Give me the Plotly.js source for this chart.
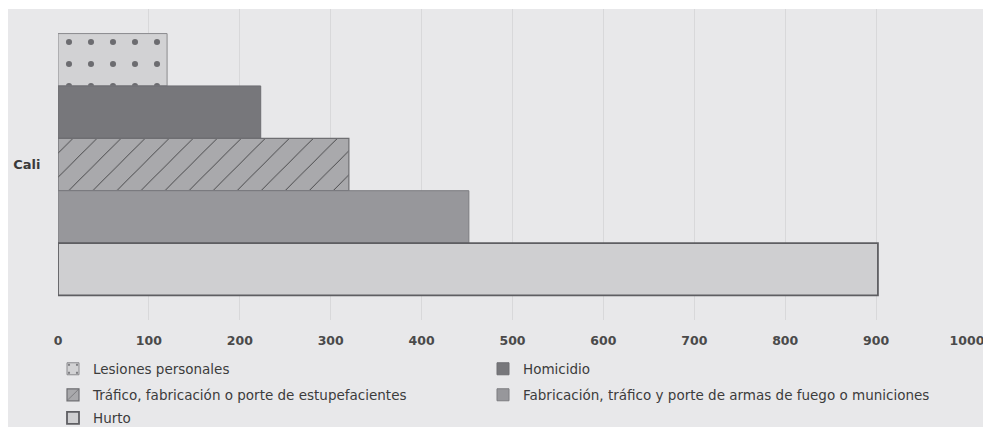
<!DOCTYPE html>
<html><head><meta charset="utf-8">
<script src="https://cdn.plot.ly/plotly-3.0.1.min.js"></script>
<style>html,body{margin:0;padding:0;background:#fff;}#chart{width:983px;height:427px;}</style>
</head><body><div id="chart"></div>
<script>
const categories = ["Cali"];
const seriesNames = ["Lesiones personales", "Homicidio", "Tráfico, fabricación o porte de estupefacientes", "Fabricación, tráfico y porte de armas de fuego o municiones", "Hurto"];
const lesiones = [120];
const homicidio = [223];
const trafico = [320];
const fabricacion = [452];
const hurto = [902];
const xTicks = [0,100,200,300,400,500,600,700,800,900,1000];

const seriesValues = [lesiones, homicidio, trafico, fabricacion, hurto];
const fills = ["#d2d2d4", "#77777b", "#a9a9ac", "#97979b", "#cfcfd1"];
const lines = ["#8a8a8e", "#6e6e72", "#6e6e72", "#7c7c80", "#5e5e62"];
const lineW = [1, 1, 1.2, 1, 1.8];
const patterns = [
  {shape: ".", fgcolor: "#6c6c70", bgcolor: "#d2d2d4", size: 22, solidity: 0.06},
  {shape: ""},
  {shape: "/", fgcolor: "#38383a", bgcolor: "#a9a9ac", size: 17, solidity: 0.05},
  {shape: ""},
  {shape: ""}
];
const legendIds = ["legend", "legend2", "legend3", "legend4", "legend5"];

const traces = seriesNames.map((name, i) => ({
  type: "bar",
  orientation: "h",
  name: name,
  y: categories,
  x: seriesValues[i],
  legend: legendIds[i],
  marker: {color: fills[i], line: {color: lines[i], width: lineW[i]}, pattern: patterns[i]},
  hoverinfo: "x+name"
}));

const legFont = {family: "DejaVu Sans, sans-serif", size: 13.5, color: "#3c3c3c"};
const col1 = -5/909, col2 = (483-58)/909;
const rowY = px => (320 - px) / 311;
function leg(x, y) {
  return {orientation: "v", xanchor: "left", yanchor: "middle", x: x, y: y,
    bgcolor: "rgba(0,0,0,0)", font: legFont, itemwidth: 30, tracegroupgap: 0};
}

const layout = {
  width: 983, height: 427,
  margin: {l: 58, r: 16, t: 9, b: 107, autoexpand: false},
  paper_bgcolor: "#ffffff",
  plot_bgcolor: "rgba(0,0,0,0)",
  barmode: "group",
  bargap: 0.158,
  bargroupgap: 0,
  showlegend: true,
  shapes: [{type: "rect", xref: "paper", yref: "paper", x0: -50/909, x1: 1.05, y0: -1, y1: 1.0, fillcolor: "#e8e8ea", line: {width: 0}, layer: "below"}],
  xaxis: {
    range: [0, 1000], tickvals: xTicks, ticktext: xTicks.map(String),
    showgrid: true, gridcolor: "#d8d8da", gridwidth: 1, zeroline: false,
    ticks: "outside", ticklen: 9, tickcolor: "rgba(0,0,0,0)", ticklabeloverflow: "allow",
    tickfont: {family: "DejaVu Sans, sans-serif", size: 12.5, color: "#4a4a4a", weight: "bold"},
    showline: false, fixedrange: true, automargin: false
  },
  yaxis: {
    type: "category", range: [0.5, -0.5], autorange: false,
    showgrid: false, zeroline: false,
    ticks: "outside", ticklen: 14, tickcolor: "rgba(0,0,0,0)",
    tickfont: {family: "DejaVu Sans, sans-serif", size: 13, color: "#3a3a3a", weight: "bold"},
    showline: false, fixedrange: true, automargin: false
  },
  legend: legend = leg(col1, rowY(369)),
  legend2: leg(col2, rowY(369)),
  legend3: leg(col1, rowY(395)),
  legend4: leg(col2, rowY(395)),
  legend5: leg(col1, rowY(418))
};

Plotly.newPlot("chart", traces, layout, {displayModeBar: false, staticPlot: true});
</script></body></html>
